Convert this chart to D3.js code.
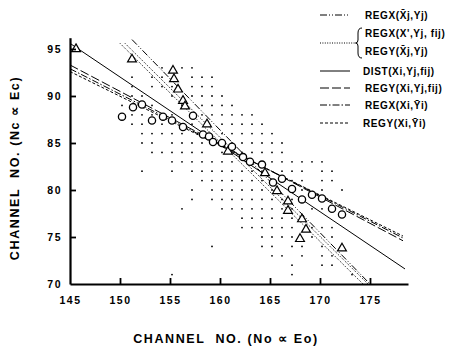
<!DOCTYPE html>
<html>
<head>
<meta charset="utf-8">
<script src="https://cdn.jsdelivr.net/npm/d3@7"></script>
<style>
  html, body { margin: 0; padding: 0; background: #fff; }
  svg text { font-family: "Liberation Sans", Arial, sans-serif; font-weight: bold; fill: #000; }
</style>
</head>
<body>
<div id="vis"></div>
<script>
// tick labels
const xTicks = [145, 150, 155, 160, 165, 170, 175];
const yTicks = [70, 75, 80, 85, 90, 95];

// open circles (Xi, Yi)
const circleX = [150.2, 151.3, 152.2, 153.2, 154.3, 155.2, 156.3, 157.3, 158.3, 158.9, 159.3, 160.2,
                 161.2, 162.3, 163.0, 164.2, 165.3, 166.2, 167.2, 168.2, 169.2, 170.2, 171.2, 172.2];
const circleY = [87.8, 88.8, 89.1, 87.4, 87.8, 87.4, 86.7, 87.9, 85.9, 85.7, 85.1, 85.0,
                 84.6, 83.5, 83.0, 82.7, 80.8, 81.2, 80.1, 79.0, 79.5, 79.1, 78.0, 77.4];

// open triangles (Xj, Yj)
const triX = [145.6, 151.2, 155.3, 155.4, 155.8, 156.3, 156.5, 158.7, 160.8, 164.5, 165.7,
              166.8, 166.8, 168.2, 168.6, 168.0, 172.2];
const triY = [95.1, 94.0, 92.8, 91.9, 90.8, 89.6, 89.0, 87.1, 84.2, 81.9, 80.0,
              78.9, 77.9, 77.0, 75.9, 74.9, 73.9];

// fij cells (dot rows): Y channel and X channels occupied
const dotRowY = [93, 92, 91, 90, 89, 88, 87, 86, 85, 84, 83, 82, 81, 80, 79, 78, 77, 76, 75, 74, 73, 72, 71];
const dotRowX = [
  [154, 156, 157],
  [151, 153, 154, 157, 158, 159],
  [151, 153, 154, 155, 157, 158, 159],
  [151, 152, 155, 157, 158, 159, 160],
  [150, 151, 153, 156, 158, 159, 160, 161],
  [151, 152, 153, 155, 158, 159, 160, 161, 162, 163],
  [151, 152, 154, 156, 157, 160, 161, 162, 163, 164],
  [152, 153, 154, 155, 156, 158, 160, 161, 162, 163, 164, 165],
  [152, 153, 155, 156, 157, 158, 159, 161, 162, 163, 164, 165, 166],
  [153, 154, 155, 156, 157, 158, 160, 162, 163, 164, 165, 166],
  [155, 156, 157, 158, 159, 160, 161, 163, 165, 166, 167, 168, 169, 170],
  [152, 155, 157, 158, 159, 160, 161, 162, 163, 164, 166, 167, 168, 170, 171],
  [158, 159, 160, 161, 162, 163, 164, 166, 167, 168, 170, 171],
  [157, 159, 160, 161, 162, 163, 164, 165, 167, 168, 170, 172],
  [157, 159, 160, 161, 162, 163, 164, 165, 166, 167, 168, 170],
  [156, 160, 161, 162, 163, 164, 165, 166, 167, 169, 170],
  [162, 163, 164, 165, 166, 167, 168],
  [162, 163, 164, 165, 166, 167, 169, 170, 171],
  [164, 165, 166, 167, 169, 171],
  [159, 164, 165, 167, 168, 170],
  [165, 166, 168, 170, 171],
  [167, 170, 171],
  [155, 167, 173]
];

// fitted lines: names, end points [x0, y0, x1, y1]
const lineNames = ["REGX(X\u0304j,Yj)", "REGX(X',Yj, fij)", "REGY(X\u0304j,Yj)", "DIST(Xi,Yj,fij)",
                   "REGY(Xi,Yj,fij)", "REGX(Xi,Y\u0304i)", "REGY(Xi,Y\u0304i)"];
const lineEnds = [
  [151.2, 96.0, 175.0, 70.0],
  [150.0, 95.6, 174.3, 70.0],
  [150.5, 95.6, 174.8, 70.0],
  [145.0, 95.6, 178.5, 71.6],
  [145.0, 93.3, 178.3, 74.6],
  [145.0, 92.9, 178.3, 74.9],
  [145.0, 92.6, 178.3, 75.1]
];
const lineDash = ["7,2,1,2,1,2", "1,1.4", "1,1.4", null, "9,3", "7,2,1.5,2", "3,2"];

const W = 459, H = 347;
const svg = d3.select("#vis").append("svg").attr("width", W).attr("height", H);

const x = d3.scaleLinear().domain([145, 178.8]).range([70, 408]);
const y = d3.scaleLinear().domain([70, 96.2]).range([284, 37.7]);

// dots for fij
const dots = [];
dotRowY.forEach((yy, i) => dotRowX[i].forEach(xx => dots.push([xx, yy])));
svg.append("g").selectAll("circle").data(dots).enter().append("circle")
  .attr("cx", d => x(d[0]) + 2).attr("cy", d => y(d[1]))
  .attr("r", 0.9).attr("fill", "#000");

// regression lines
svg.append("g").selectAll("line").data(lineEnds).enter().append("line")
  .attr("x1", d => x(d[0])).attr("y1", d => y(d[1]))
  .attr("x2", d => x(d[2])).attr("y2", d => y(d[3]))
  .attr("stroke", "#000").attr("stroke-width", 1)
  .attr("stroke-dasharray", (d, i) => lineDash[i]);

// triangles
const tri = d3.symbol().type(d3.symbolTriangle).size(34);
svg.append("g").selectAll("path").data(triX).enter().append("path")
  .attr("d", tri)
  .attr("transform", (d, i) => `translate(${x(d)},${y(triY[i]) + 1})`)
  .attr("fill", "#fff").attr("stroke", "#000").attr("stroke-width", 1.2);

// circles
svg.append("g").selectAll("circle").data(circleX).enter().append("circle")
  .attr("cx", d => x(d)).attr("cy", (d, i) => y(circleY[i]))
  .attr("r", 3.6)
  .attr("fill", "#fff").attr("stroke", "#000").attr("stroke-width", 1.3);

// axes
const xAxis = svg.append("g").attr("transform", `translate(0,${y(70)})`)
  .call(d3.axisBottom(x).tickValues(xTicks).tickSizeInner(-6).tickSizeOuter(0).tickPadding(13).tickFormat(d3.format("d")));
const yAxis = svg.append("g").attr("transform", `translate(${x(145)},0)`)
  .call(d3.axisLeft(y).tickValues(yTicks).tickSizeInner(-6).tickSizeOuter(0).tickPadding(8).tickFormat(d3.format("d")));
[xAxis, yAxis].forEach(a => {
  a.select(".domain").attr("stroke-width", 2.2);
  a.selectAll(".tick line").attr("stroke-width", 1.8);
  a.selectAll("text").attr("font-size", 10.5).attr("font-weight", "bold")
    .attr("letter-spacing", 1.5).attr("font-family", "Liberation Sans, Arial, sans-serif");
});
xAxis.selectAll(".tick").filter(d => d === 145).select("line").remove();
yAxis.selectAll(".tick").filter(d => d === 70).select("line").remove();

// axis titles
svg.append("text").attr("x", 226).attr("y", 342.5).attr("text-anchor", "middle")
  .attr("font-size", 12.5).attr("letter-spacing", 1.6).attr("xml:space", "preserve")
  .text("CHANNEL  NO. (No \u221D Eo)");
svg.append("text").attr("transform", "translate(19,168) rotate(-90)").attr("text-anchor", "middle")
  .attr("font-size", 12.5).attr("letter-spacing", 1.6).attr("xml:space", "preserve")
  .text("CHANNEL  NO. (Nc \u221D Ec)");

// legend
const legY = [15, 33, 51, 71, 88, 105, 123];
const leg = svg.append("g");
[0, 3, 4, 5, 6].forEach(i => {
  leg.append("line").attr("x1", 320).attr("x2", 350).attr("y1", legY[i]).attr("y2", legY[i])
    .attr("stroke", "#000").attr("stroke-width", 1).attr("stroke-dasharray", lineDash[i]);
});
leg.append("line").attr("x1", 320).attr("x2", 355).attr("y1", 43).attr("y2", 43)
  .attr("stroke", "#000").attr("stroke-width", 1).attr("stroke-dasharray", lineDash[1]);
leg.append("path").attr("d", "M362,28 Q358,28 358,33 L358,40 Q358,43 355.5,43 Q358,43 358,46 L358,53 Q358,58 362,58")
  .attr("fill", "none").attr("stroke", "#000").attr("stroke-width", 1);
leg.selectAll("text").data(lineNames).enter().append("text")
  .attr("x", (d, i) => i === 3 || i === 6 ? 363 : 365)
  .attr("y", (d, i) => legY[i] + 3.5)
  .attr("font-size", 10).attr("letter-spacing", 0.6)
  .text(d => d);
</script>
</body>
</html>
